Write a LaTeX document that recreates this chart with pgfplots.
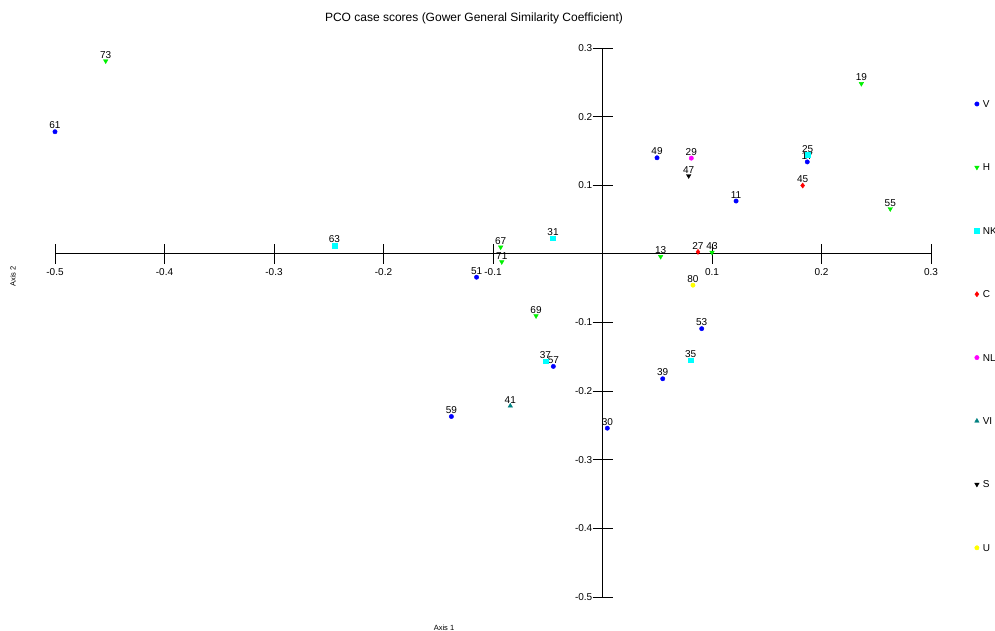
\documentclass[border=0pt]{standalone}
\usepackage{fontspec}
\setmainfont{Liberation Sans}
\usepackage{pgfplots}
\pgfplotsset{compat=1.18}
\definecolor{cV}{RGB}{0,0,255}
\definecolor{cH}{RGB}{0,240,0}
\definecolor{cNK}{RGB}{0,255,255}
\definecolor{cC}{RGB}{255,0,0}
\definecolor{cNL}{RGB}{255,0,255}
\definecolor{cVI}{RGB}{0,128,128}
\definecolor{cS}{RGB}{0,0,0}
\definecolor{cU}{RGB}{255,255,0}
\pgfplotsset{ptleg/.style={legend image code/.code={\draw[##1,mark repeat=2,mark phase=2] plot coordinates {(0pt,0pt)(2pt,0pt)(4pt,0pt)};}}}
\pgfplotstableread{
x y lab
-0.500 0.178 61
0.0498 0.140 49
0.122 0.077 11
0.187 0.134 17
-0.115 -0.034 51
0.0906 -0.109 53
-0.0449 -0.164 57
0.055 -0.182 39
-0.138 -0.237 59
0.0044 -0.254 30
}\tV
\pgfplotstableread{
x y lab
-0.4537 0.281 73
0.2364 0.248 19
0.2628 0.0656 55
0.0531 -0.004 13
0.100 0.002 43
-0.093 0.0098 67
-0.092 -0.0117 71
-0.0607 -0.0904 69
}\tH
\pgfplotstableread{
x y lab
-0.2449 0.0121 63
-0.0452 0.0229 31
-0.0522 -0.1565 37
0.0805 -0.155 35
0.1874 0.144 25
}\tNK
\pgfplotstableread{
x y lab
0.1828 0.0996 45
0.0872 0.0029 27
}\tC
\pgfplotstableread{
x y lab
0.0811 0.1395 29
}\tNL
\pgfplotstableread{
x y lab
-0.0842 -0.2216 41
}\tVI
\pgfplotstableread{
x y lab
0.0787 0.1137 47
}\tS
\pgfplotstableread{
x y lab
0.0826 -0.0456 80
}\tU
\begin{document}
\begin{tikzpicture}[x=1pt,y=1pt]
\useasboundingbox (0,0) rectangle (995,631);
\begin{axis}[
  at={(55pt,34pt)}, anchor=south west,
  scale only axis, width=876pt, height=549pt,
  xmin=-0.5, xmax=0.3, ymin=-0.5, ymax=0.3,
  axis lines=middle,
  axis line style={-, line width=0.8pt, black},
  clip=false,
  xtick={-0.5,-0.4,-0.3,-0.2,-0.1,0.1,0.2,0.3},
  xticklabels={-0.5,-0.4,-0.3,-0.2,-0.1,0.1,0.2,0.3},
  ytick={-0.5,-0.4,-0.3,-0.2,-0.1,0.1,0.2,0.3},
  yticklabels={-0.5,-0.4,-0.3,-0.2,-0.1,0.1,0.2,0.3},
  tick align=center, major tick length=20pt,
  tick style={black, line width=0.8pt},
  xticklabel style={anchor=north, inner sep=0pt, yshift=-4.5pt, font=\fontsize{10}{12}\selectfont},
  yticklabel style={anchor=east, inner sep=0pt, xshift=0pt, font=\fontsize{10}{12}\selectfont},
  legend style={at={(rel axis cs:1,1)}, anchor=north west, xshift=43.5pt, yshift=-52.4pt,
    draw=none, fill=none, inner sep=0pt, outer sep=0pt, row sep=56.2pt, column sep=3.5pt,
    font=\fontsize{10}{12}\selectfont,
    nodes={inner sep=0pt, text height=7.2pt, text depth=0pt}},
  legend cell align=left,
  every node near coord/.append style={anchor=south, inner sep=0pt, yshift=2.5pt,
    font=\fontsize{10}{12}\selectfont, text=black},
]
\addplot[only marks, ptleg, color=cV, mark=*, mark size=2.2pt, nodes near coords, point meta=explicit symbolic] table[x=x,y=y,meta=lab] {\tV};
\addlegendentry{V}
\addplot[only marks, ptleg, color=cH, mark=triangle*, mark size=2.6pt, mark options={rotate=180}, nodes near coords, point meta=explicit symbolic] table[x=x,y=y,meta=lab] {\tH};
\addlegendentry{H}
\addplot[only marks, ptleg, color=cNK, mark=square*, mark size=2.4pt, nodes near coords, point meta=explicit symbolic] table[x=x,y=y,meta=lab] {\tNK};
\addlegendentry{NK}
\addplot[only marks, ptleg, color=cC, mark=diamond*, mark size=2.6pt, nodes near coords, point meta=explicit symbolic] table[x=x,y=y,meta=lab] {\tC};
\addlegendentry{C}
\addplot[only marks, ptleg, color=cNL, mark=*, mark size=2.2pt, nodes near coords, point meta=explicit symbolic] table[x=x,y=y,meta=lab] {\tNL};
\addlegendentry{NL}
\addplot[only marks, ptleg, color=cVI, mark=triangle*, mark size=2.6pt, nodes near coords, point meta=explicit symbolic] table[x=x,y=y,meta=lab] {\tVI};
\addlegendentry{VI}
\addplot[only marks, ptleg, color=cS, mark=triangle*, mark size=2.6pt, mark options={rotate=180}, nodes near coords, point meta=explicit symbolic] table[x=x,y=y,meta=lab] {\tS};
\addlegendentry{S}
\addplot[only marks, ptleg, color=cU, mark=*, mark size=2.2pt, nodes near coords, point meta=explicit symbolic] table[x=x,y=y,meta=lab] {\tU};
\addlegendentry{U}
\end{axis}
\node[font=\fontsize{12}{14}\selectfont] at (474,613) {PCO case scores (Gower General Similarity Coefficient)};
\node[font=\fontsize{7.5}{9}\selectfont] at (444,3) {Axis 1};
\node[font=\fontsize{7.5}{9}\selectfont, rotate=90] at (13,354.5) {Axis 2};
\end{tikzpicture}
\end{document}
